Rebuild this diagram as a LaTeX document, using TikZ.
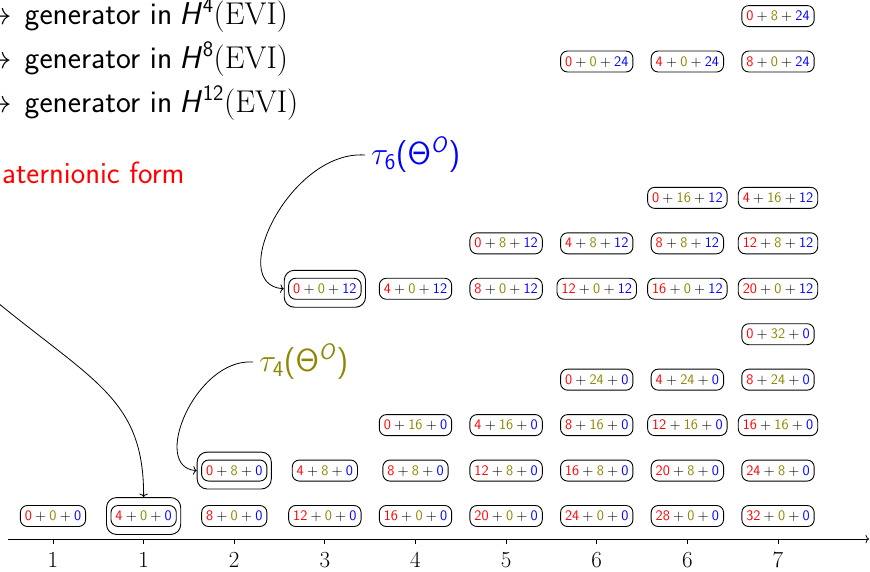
\RequirePackage{fix-cm}
\documentclass[tikz,border=0pt]{standalone}
\usetikzlibrary{fit,arrows.meta}
\DeclareMathAlphabet{\mathsfit}{OT1}{cmss}{m}{sl}
\newcommand{\trip}[3]{$\textcolor{red}{\mathsf{#1}}+\textcolor{olive}{\mathsf{#2}}+\textcolor{blue}{\mathsf{#3}}$}
\newcommand{\gentext}[1]{$\to$\hspace{13pt}\textsf{generator in}\hspace{7pt}$\mathsfit{H}^{\mathsf{#1}}\mathrm{(EVI)}$}
\newcommand{\taulab}[1]{$\tau_{\mathsf{#1}}$\textsf{(}$\mathsf{\Theta}^{\mathsfit{O}}$\textsf{)}}
\tikzset{
  tripbox/.style={draw, line width=0.9pt, rounded corners=7pt, inner xsep=4.5pt, inner ysep=5pt,
    text height=10pt, text depth=1pt, font=\fontsize{14.5}{17}\selectfont},
  hilite/.style={draw, line width=0.9pt, rounded corners=10pt, inner xsep=4pt, inner ysep=7.5pt},
  gen/.style={inner sep=0pt, anchor=base west, font=\fontsize{31.5}{38}\selectfont},
  taustyle/.style={inner sep=6pt, anchor=west, font=\fontsize{32}{38}\selectfont},
  ticklab/.style={inner sep=0pt, anchor=base, font=\fontsize{23}{27}\selectfont},
  conn/.style={line width=0.8pt, -{To[length=3.5pt,width=8.5pt]}},
}
\begin{document}
\begin{tikzpicture}[x=1pt,y=-1pt]
\useasboundingbox (0,0) rectangle (870,571);
% generator lines
\node[gen] (g4) at (-20,24) {\gentext{4}};
\node[gen] (g8) at (-20,68) {\gentext{8}};
\node[gen] (g12) at (-20,112) {\gentext{12}};
\node[gen, text=red, font=\fontsize{30.7}{37}\selectfont] (qf) at (2,183) {\sffamily aternionic form};
% boxes
\foreach \a/\b/\c in {0/0/0,4/0/0,8/0/0,12/0/0,16/0/0,20/0/0,24/0/0,28/0/0,32/0/0,
  0/8/0,4/8/0,8/8/0,12/8/0,16/8/0,20/8/0,24/8/0,
  0/16/0,4/16/0,8/16/0,12/16/0,16/16/0,
  0/24/0,4/24/0,8/24/0,
  0/32/0,
  0/0/12,4/0/12,8/0/12,12/0/12,16/0/12,20/0/12,
  0/8/12,4/8/12,8/8/12,12/8/12,
  0/16/12,4/16/12,
  0/0/24,4/0/24,8/0/24,
  0/8/24}{
  \pgfmathsetmacro\xx{53+90.625*(\a+\b+\c)/4}
  \pgfmathsetmacro\yy{516-45.45*(\b/8+5*\c/12)}
  \node[tripbox] (n-\a-\b-\c) at (\xx,\yy) {\trip{\a}{\b}{\c}};
}
% highlighted boxes
\node[hilite, fit=(n-4-0-0)] (N1) {};
\node[hilite, fit=(n-0-8-0)] (N2) {};
\node[hilite, fit=(n-0-0-12)] (N3) {};
% labels
\node[taustyle, text=blue] (t6) at (365,155) {\taulab{6}};
\node[taustyle, text=olive] (t4) at (253,362) {\taulab{4}};
% connectors
\coordinate (qs) at (-20,288);
\draw[conn] (qs) .. controls (90,381) and (144,395) .. (N1.north);
\draw[conn] (t4.west) .. controls (195,358) and (150,468) .. (N2.west);
\draw[conn] (t6.west) .. controls (290,150) and (225,285) .. (N3.west);
% axis
\coordinate (ax0) at (8,539);
\coordinate (ax1) at (869,539);
\draw[line width=0.8pt, -{To[length=3.5pt,width=8.5pt]}] (ax0) -- (ax1);
\foreach \i/\l in {1/1,2/1,3/2,4/3,5/4,6/5,7/6,8/6,9/7}{
  \pgfmathsetmacro\xx{53+90.625*(\i-1)}
  \draw[line width=0.8pt] (\xx,539) -- (\xx,544);
  \node[ticklab] (tk\i) at (\xx,567.5) {\l};
}
\end{tikzpicture}
\end{document}
